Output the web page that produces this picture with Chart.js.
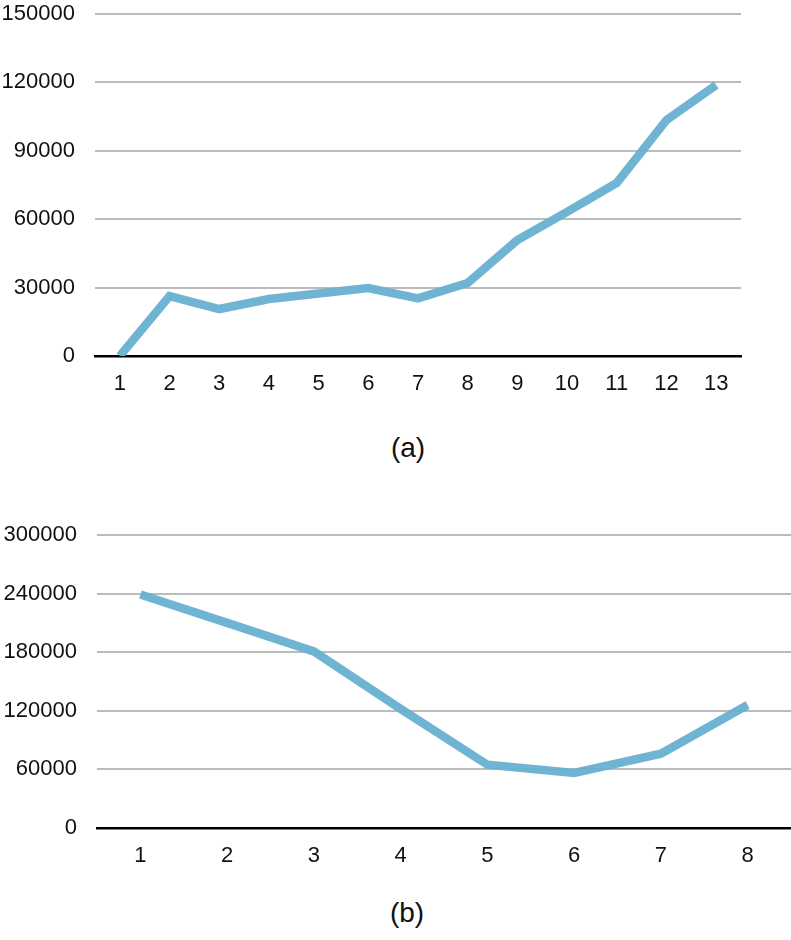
<!DOCTYPE html>
<html>
<head>
<meta charset="utf-8">
<script src="https://cdn.jsdelivr.net/npm/chart.js@4/dist/chart.umd.min.js"></script>
<style>
  html, body { margin: 0; padding: 0; background: #fff; }
  body { width: 791px; height: 940px; position: relative; overflow: hidden; font-family: "Liberation Sans", Arial, sans-serif; }
  .box { position: absolute; left: 0; width: 791px; }
  .cap { position: absolute; width: 200px; text-align: center; font-size: 28px; color: #111; line-height: 1; }
</style>
</head>
<body>
<div class="box" style="top:0;height:400px;"><canvas id="chartA"></canvas></div>
<div class="cap" style="left:308px;top:434px;">(a)</div>
<div class="box" style="top:500px;height:370px;"><canvas id="chartB"></canvas></div>
<div class="cap" style="left:307px;top:899px;">(b)</div>
<script>
// ---- data ----
const labelsA = ["1","2","3","4","5","6","7","8","9","10","11","12","13"];
const valuesA = [0, 26300, 20600, 25000, 27400, 29800, 25300, 32000, 50900, 63200, 75900, 103500, 118900];
const labelsB = ["1","2","3","4","5","6","7","8"];
const valuesB = [239000, 210000, 180800, 122000, 64800, 56300, 76000, 126000];
const yMaxA = 150000, yStepA = 30000;
const yMaxB = 300000, yStepB = 60000;

const LINE = "rgba(103,176,208,0.95)";
const GRID = "#bcbcbc";
const FONT = { family: "Liberation Sans, Arial, sans-serif", size: 22 };

function makeChart(id, labels, values, yMax, yStep, yWidth, xHeight, padTop, padRight) {
  return new Chart(document.getElementById(id), {
    type: "line",
    data: {
      labels: labels,
      datasets: [{
        data: values,
        borderColor: LINE,
        borderWidth: 8.5,
        pointRadius: 0,
        pointHoverRadius: 0,
        tension: 0,
        fill: false,
        borderCapStyle: "butt",
        borderJoinStyle: "miter"
      }]
    },
    options: {
      responsive: true,
      maintainAspectRatio: false,
      animation: false,
      layout: { padding: { top: padTop, right: padRight, left: 0, bottom: 0 } },
      plugins: { legend: { display: false }, tooltip: { enabled: false }, title: { display: false } },
      scales: {
        x: {
          offset: true,
          grid: { display: false, drawTicks: false },
          border: { display: true, color: "#000", width: 2.5 },
          ticks: { color: "#111", font: FONT, padding: 15, maxRotation: 0, autoSkip: false },
          afterFit: (s) => { s.height = xHeight; s.paddingLeft = 0; s.paddingRight = 0; }
        },
        y: {
          min: 0,
          max: yMax,
          grid: {
            drawTicks: false,
            color: (c) => (c.tick && c.tick.value === 0) ? "rgba(0,0,0,0)" : GRID,
            lineWidth: 2
          },
          border: { display: false },
          ticks: { stepSize: yStep, color: "#111", font: FONT, padding: 20, callback: (v) => String(v) },
          afterFit: (s) => { s.width = yWidth; s.paddingTop = 0; s.paddingBottom = 0; }
        }
      }
    }
  });
}

makeChart("chartA", labelsA, valuesA, yMaxA, yStepA, 95, 44, 14, 50);
makeChart("chartB", labelsB, valuesB, yMaxB, yStepB, 97, 42, 35, 0);
</script>
</body>
</html>
